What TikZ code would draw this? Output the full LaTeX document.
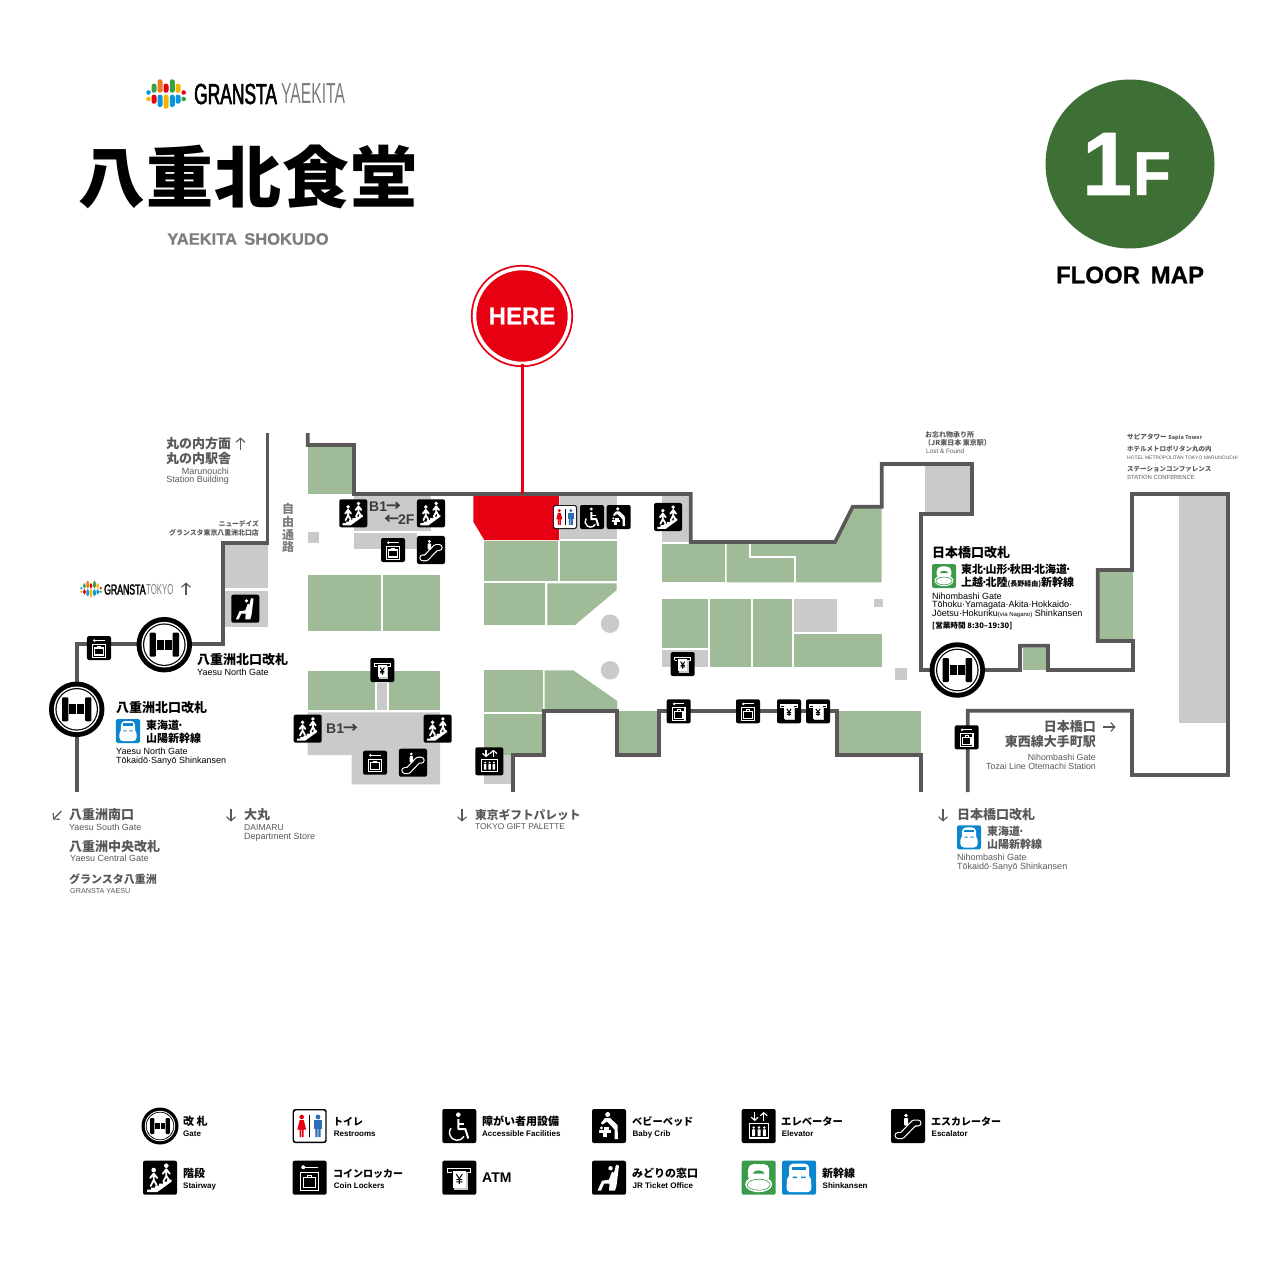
\documentclass[tikz,border=0pt]{standalone}
\usepackage{fontspec}
\usetikzlibrary{arrows.meta, shapes.geometric}
\setmainfont{Liberation Sans}
\newfontfamily\cjk{Noto Sans CJK JP}
\newfontfamily\cjktitle{Noto Sans CJK JP Black}
\newfontfamily\logobold[FakeStretch=.6,FakeBold=2]{Liberation Sans}
\newfontfamily\logothin[FakeStretch=.54]{Liberation Sans}
\newfontfamily\heavy[FakeBold=.8]{Liberation Sans Bold}
\newcommand{\fs}[1]{\fontsize{#1}{#1}\selectfont}
\newcommand{\jpdot}{\kern-.2em·\kern-.2em}
\definecolor{wallgray}{HTML}{595757}
\definecolor{shopgreen}{HTML}{9FBB97}
\definecolor{floorgray}{HTML}{C9CACA}
\definecolor{herered}{HTML}{E60012}
\definecolor{floorgreen}{HTML}{3E7035}
\definecolor{subgray}{HTML}{7D7D7D}
\definecolor{trainblue}{HTML}{0A86CF}
\definecolor{traingreen}{HTML}{3C9A4B}
\definecolor{wcblue}{HTML}{2F6DB5}
\definecolor{logoorange}{HTML}{EE7B1A}
\definecolor{logoyellow}{HTML}{F8B500}
\definecolor{logoblue}{HTML}{0A96DE}
\definecolor{logogreen}{HTML}{3AA23F}
% Map pieces
\tikzstyle{wall} = [draw=wallgray, line width=3.6pt, miter limit=4]
\tikzstyle{shop} = [fill=shopgreen]
\tikzstyle{service} = [fill=floorgray]
\tikzstyle{dirarrow} = [wallgray, line width=1.1pt, -{Straight Barb[length=4pt,width=9pt]}]
% Text, the number is the size
\tikzstyle{jp} = [anchor=west, inner sep=0pt, text=wallgray, font=\cjk\bfseries\fs{#1}, text height={.76*#1pt}, text depth=0pt]
\tikzstyle{jpblack} = [jp=#1, text=black]
\tikzstyle{en} = [anchor=west, inner sep=0pt, text=wallgray, font=\fs{#1}, text height={.7*#1pt}, text depth=0pt]
\tikzstyle{enblack} = [en=#1, text=black]
\tikzstyle{legendjp} = [jp=#1, text=black]
\tikzstyle{legenden} = [en=8, text=black, font=\bfseries\fs{8}]
\tikzstyle{floorlabel} = [en=14, font=\bfseries\fs{14}, text=wallgray!70!black]
% Icon sizes
\tikzstyle{midicon} = [scale=.824]
\tikzstyle{smallicon} = [scale=.706]
\tikzstyle{whiteline} = [white, line width=1.2pt]
\newcommand{\walker}[2]{%
  \fill[white] (#1,#2) circle[radius=2.3];
  \draw[white, line width=1.8pt, line cap=round, line join=round]
    (#1-3.5,#2+8) -- (#1,#2+3.5) -- (#1+3.5,#2+8)
    (#1,#2+3.5) -- (#1,#2+10) -- (#1-3,#2+16)
    (#1,#2+10) -- (#1+3,#2+15);
}
\tikzset{
  pics/logomark/.style={code={
    \fill[logoblue] (-17.5,-1.5) circle[radius=2.3];
    \fill[logoyellow] (-17.5,5) circle[radius=2.3];
    \fill[logogreen, rounded corners=2.2] (-14.5,-10.3) rectangle (-9.5,-1.3);
    \fill[herered, rounded corners=2.2] (-14.5,.7) rectangle (-9.5,9.7);
    \fill[logoorange, rounded corners=2.2] (-8.5,-14.7) rectangle (-3.5,-1.3);
    \fill[logoblue, rounded corners=2.2] (-8.5,.7) rectangle (-3.5,13);
    \fill[herered, rounded corners=2.2] (-2.5,-10.3) rectangle (2.5,-1.3);
    \fill[logoyellow, rounded corners=2.2] (-2.5,.7) rectangle (2.5,14.7);
    \fill[logogreen, rounded corners=2.2] (3.8,-14.7) rectangle (8.8,-1.3);
    \fill[logoblue, rounded corners=2.2] (3.8,.7) rectangle (8.8,13);
    \fill[logoyellow, rounded corners=2.2] (9.6,-10.3) rectangle (14.6,-1.3);
    \fill[logoblue, rounded corners=2.2] (9.6,.7) rectangle (14.6,9.7);
    \fill[herered] (17.7,-1.5) circle[radius=2.3];
    \fill[logogreen] (17.7,5) circle[radius=2.3];
  }},
  pics/gateicon/.style={code={
    \fill[black] (0,0) circle[radius=18.5];
    \fill[white] (0,0) circle[radius=15.2];
    \fill[black] (0,0) circle[radius=14.2];
    \fill[white] (0,0) circle[radius=13.4];
    \fill[black, rounded corners=1] (-9.8,-8) rectangle (-5.6,8);
    \fill[black, rounded corners=1] (5.6,-8) rectangle (9.8,8);
    \fill[black] (-5,-3.4) rectangle (-.5,3.4);
    \fill[black] (.5,-3.4) rectangle (5,3.4);
  }},
  pics/stairicon/.style={code={
    \fill[black, rounded corners=2] (-17,-17) rectangle (17,17);
    \walker{-6.3}{-7.7}
    \walker{6.3}{-12}
    \fill[white] (-13,14.5) -- (-13,12) -- (-9,12) -- (-9,10) -- (-5,10) -- (-5,8) -- (-1,8) -- (-1,6) -- (3,6)
      -- (3,4) -- (7,4) -- (7,2) -- (11.5,2) -- (11.5,4) -- (-3,14.5) -- cycle;
  }},
  pics/lockericon/.style={code={
    \fill[black, rounded corners=2] (-17,-17) rectangle (17,17);
    \fill[white] (-6.5,-10.5) circle[radius=2];
    \fill[white] (-6,-11.2) rectangle (8,-9.8);
    \draw[whiteline] (-9,-5) rectangle (9,13);
    \draw[whiteline] (-6,0) rectangle (6,10);
    \draw[whiteline] (-2,0) -- (-2,-2) -- (2,-2) -- (2,0);
  }},
  pics/atmicon/.style={code={
    \fill[black, rounded corners=2] (-17,-17) rectangle (17,17);
    \draw[whiteline] (-11.5,-5) -- (-11.5,-9) -- (11.5,-9) -- (11.5,-5) -- (7.5,-5);
    \draw[whiteline] (-11.5,-5) -- (-7.5,-5);
    \fill[floorgray] (-5,-6) rectangle (8.5,12.5);
    \fill[white] (-6.7,-7) rectangle (6.7,10.5);
    \draw[black, line width=1pt] (-3,-3.5) -- (0,1) -- (3,-3.5) (0,1) -- (0,6.5) (-3,2) -- (3,2) (-3,4.2) -- (3,4.2);
  }},
  pics/wheelicon/.style={code={
    \fill[black, rounded corners=2] (-17,-17) rectangle (17,17);
    \fill[white] (-1,-11.3) circle[radius=2.3];
    \draw[white, line width=2pt, line join=round] (-1,-7) -- (-1,3) -- (6,3) -- (9,12.5);
    \draw[white, line width=1.3pt] (-1,-2) -- (5,-2);
    \draw[white, line width=1.4pt] (-2,6.5) +(215:7.8) arc[start angle=215, end angle=30, radius=7.8];
  }},
  pics/babyicon/.style={code={
    \fill[black, rounded corners=2] (-17,-17) rectangle (17,17);
    \fill[white] (-1.3,-11.5) circle[radius=2.5];
    \fill[white] (-4,-8) -- (1,-8) -- (8.5,-1) -- (9,13) -- (5.5,13) -- (5.5,3.5) -- (1,-1.5) -- (-2,-4.5) -- (-6.5,-1.5) -- (-8,-3) -- cycle;
    \fill[white] (-10,4) rectangle (2,7);
    \fill[white] (-6,7) rectangle (-2,11);
    \fill[white] (-7.5,2) circle[radius=1.6];
    \fill[white] (-5.5,1.2) rectangle (0,4);
  }},
  pics/ticketicon/.style={code={
    \fill[black, rounded corners=2] (-17,-17) rectangle (17,17);
    \fill[white] (1.5,-9.5) circle[radius=2.2];
    \fill[white] (7,-13) -- (10,-12) -- (7.5,8) -- (6,13) -- (0,13) -- (.5,6) -- (-5,6) -- (-8,13) -- (-11.5,13)
      -- (-7,3) -- (0,2) -- (3,-6) -- (5,-5) -- cycle;
  }},
  pics/elevatoricon/.style={code={
    \fill[black, rounded corners=2] (-17,-17) rectangle (17,17);
    \draw[white, line width=1.2pt, -{Straight Barb[length=3pt,width=7pt]}] (-4,-14) -- (-4,-5);
    \draw[white, line width=1.2pt, -{Straight Barb[length=3pt,width=7pt]}] (5,-5) -- (5,-14);
    \draw[whiteline] (-9,-2.5) rectangle (9.5,12);
    \fill[white] (-5,1.5) circle[radius=1.3] (.3,1.5) circle[radius=1.3] (5.6,1.5) circle[radius=1.3];
    \fill[white] (-6.5,3.3) rectangle (-3.5,10) (-1.2,3.3) rectangle (1.8,10) (4.1,3.3) rectangle (7.1,10);
  }},
  pics/escalatoricon/.style={code={
    \fill[black, rounded corners=2] (-17,-17) rectangle (17,17);
    \draw[white, line width=7pt, line join=round, line cap=round] (-10,9.5) -- (-6,9.5) -- (6,-3) -- (10,-3);
    \draw[black, line width=4.6pt, line join=round, line cap=round] (-10,9.5) -- (-6,9.5) -- (6,-3) -- (10,-3);
    \fill[white] (-2,-10.5) circle[radius=1.9];
    \fill[white, rounded corners=.8] (-4,-8) rectangle (0,-.5);
  }},
  pics/wcicon/.style={code={
    \fill[black, rounded corners=2.5] (-17,-17) rectangle (17,17);
    \fill[white, rounded corners=1.5] (-15.6,-15.6) rectangle (15.6,15.6);
    \fill[black] (-.6,-11) rectangle (.6,11);
    \fill[herered] (-8,-9) circle[radius=2.3];
    \fill[herered] (-10,-6) -- (-6,-6) -- (-3.6,3.5) -- (-6,3.5) -- (-6,11) -- (-7.6,11) -- (-7.6,3.5) -- (-8.4,3.5) -- (-8.4,11) -- (-10,11) -- (-10,3.5) -- (-12.4,3.5) -- cycle;
    \fill[wcblue] (8.3,-9) circle[radius=2.4];
    \fill[wcblue] (4,-6) rectangle (12.6,3);
    \fill[wcblue] (5.6,3) rectangle (8,11) (8.6,3) rectangle (11,11);
  }},
  pics/greentrain/.style={code={
    \fill[traingreen, rounded corners=2] (-17,-17) rectangle (17,17);
    \fill[white, rounded corners=5] (-10.5,-13.5) rectangle (10.5,4);
    \fill[white] (0,6.5) ellipse[x radius=13.5, y radius=8];
    \draw[traingreen, line width=.6pt] (0,7) ellipse[x radius=11.5, y radius=5.5];
    \fill[traingreen] (-6,-4) .. controls (-5,-8.5) and (5,-8.5) .. (6,-4) -- cycle;
  }},
  pics/bluetrain/.style={code={
    \fill[trainblue, rounded corners=2] (-17,-17) rectangle (17,17);
    \fill[white, rounded corners=4] (-10,-14) rectangle (10,6);
    \fill[white, rounded corners=4] (-12,-2) -- (12,-2) -- (12.5,14.5) -- (-12.5,14.5) -- cycle;
    \fill[trainblue] (-7,-11) rectangle (7,-7.5);
    \fill[trainblue] (-6.5,-1) rectangle (-2,.5) (2,-1) rectangle (6.5,.5);
  }}
}
\begin{document}
\begin{tikzpicture}[x=1pt, y=-1pt]
    \useasboundingbox (0,0) rectangle (1276,1276);

    % Header
    \pic (yaekitaMark) at (166,94) {logomark};
    \node[anchor=base west, inner sep=0pt, font=\logobold\fs{29}] (yaekitaBold) at (194,104) {GRANSTA};
    \node[anchor=base west, inner sep=0pt, font=\logothin\fs{29}, text=subgray] (yaekitaThin) at (281,104) {YAEKITA};
    \node[inner sep=0pt, font=\cjktitle\fs{67}] (title) at (248,177) {八\kern1pt 重\kern1pt 北\kern1pt 食\kern1pt 堂};
    \node[inner sep=0pt, font=\heavy\fs{16.5}, text=subgray] (titleEn) at (248,239) {YAEKITA\, SHOKUDO};
    \node[circle, fill=floorgreen, minimum size=169pt, inner sep=0pt] (floorBadge) at (1130,164) {};
    \node[anchor=base, inner sep=0pt, font=\heavy\fs{90}, text=white] (floorOne) at (1107,195) {1};
    \node[anchor=base, inner sep=0pt, font=\heavy\fs{62}, text=white] (floorF) at (1152,195) {F};
    \node[inner sep=0pt, font=\heavy\fs{24}] (floorText) at (1130,275) {FLOOR\, MAP};

    % Shops
    \fill[shop] (307.7,446.7) rectangle (354,494);
    \fill[shop] (307.7,575) rectangle (380.7,630.7);
    \fill[shop] (382.7,575) rectangle (440,630.7);
    \fill[shop] (307.7,670.7) rectangle (375,710);
    \fill[shop] (389,670.7) rectangle (440,710);
    \fill[shop] (484.3,541) rectangle (558.3,581.3);
    \fill[shop] (560.3,541) rectangle (616.7,581.3);
    \fill[shop] (484.3,583.3) rectangle (545.3,625);
    \fill[shop] (547.3,583.3) -- (616.7,583.3) -- (616.7,590) -- (575,625) -- (547.3,625) -- cycle;
    \fill[shop] (484.3,670.3) rectangle (542.7,712.3);
    \fill[shop] (544.7,670.3) -- (573.3,670.3) -- (617.3,701) -- (617.3,710) -- (544.7,710) -- cycle;
    \fill[shop] (484.3,714.3) rectangle (542.3,755);
    \fill[shop] (619.3,711) rectangle (657.3,755);
    \fill[shop] (839,711) rectangle (921,755);
    \fill[shop] (661.7,544) rectangle (725,582.3);
    \fill[shop] (726.7,544) -- (835,544) -- (853,506.7) -- (881.7,506.7) -- (881.7,582.3) -- (726.7,582.3) -- cycle;
    \draw[white, line width=1.6pt] (750,544) -- (750,556.7) -- (795,556.7) -- (795,582.3);
    \fill[shop] (661.7,599) rectangle (707.7,648.3);
    \fill[shop] (710,599) rectangle (750.7,667);
    \fill[shop] (752.7,599) rectangle (792.3,667);
    \fill[shop] (794.3,634) rectangle (881.7,667);
    \fill[shop] (1099.3,571.7) rectangle (1133.3,639.3);
    \fill[shop] (1022.7,647.7) rectangle (1046.7,670);

    % Service areas
    \fill[service] (354,494) rectangle (431,530.7);
    \fill[service] (354,532.7) rectangle (417,549);
    \fill[service] (307.7,532.3) rectangle (319.3,543.3);
    \fill[service] (225,545) rectangle (268,588.3);
    \fill[service] (225,590.7) rectangle (268,626.7);
    \fill[service] (376.7,683) rectangle (387.3,710);
    \fill[service] (307.7,712.3) -- (440,712.3) -- (440,784.3) -- (351.7,784.3) -- (351.7,755) -- (307.7,755) -- cycle;
    \fill[service] (560,496) rectangle (616.7,539.3);
    \fill[service] (661.7,496) rectangle (689.3,541.7);
    \fill[service] (484.3,755) rectangle (511.7,784.3);
    \fill[service] (661.7,650) rectangle (707.7,667);
    \fill[service] (794.3,599) rectangle (837.3,631.7);
    \fill[service] (874.3,599) rectangle (882.7,607);
    \fill[service] (895,668.3) rectangle (906.7,680);
    \fill[service] (925,466) rectangle (970,511.7);
    \fill[service] (1179.3,496) rectangle (1226.7,723.3);
    \fill[service] (610,623.7) circle[radius=9.3];
    \fill[service] (610,670.3) circle[radius=9.3];
    \fill[herered] (473.3,496) -- (559,496) -- (559,540) -- (484.3,540) -- (473.3,521.7) -- cycle;

    % Walls
    \draw[wall] (267.5,433) -- (267.5,543) -- (223,543) -- (223,644) -- (77,644) -- (77,792);
    \draw[wall] (307.7,433) -- (307.7,445) -- (354,445) -- (354,494) -- (690.7,494) -- (690.7,542) -- (835,542)
      -- (852.7,506.7) -- (881.7,506.7) -- (881.7,464) -- (972,464) -- (972,514) -- (921,514) -- (921,670) -- (1020,670)
      -- (1020,645.7) -- (1048,645.7) -- (1048,670) -- (1133,670) -- (1133,641) -- (1097.7,641) -- (1097.7,570) -- (1132,570)
      -- (1132,494) -- (1228,494) -- (1228,775) -- (1132,775) -- (1132,710.7) -- (967.7,710.7) -- (967.7,792);
    \draw[wall] (512.7,792) -- (512.7,755) -- (544,755) -- (544,710.7) -- (617,710.7) -- (617,755) -- (659,755)
      -- (659,710.7) -- (836.7,710.7) -- (836.7,755) -- (921,755) -- (921,792);

    % Here marker
    \node[circle, fill=herered, draw=herered, line width=1.8pt, double=white, double distance=3.6pt, minimum size=95pt,
      inner sep=0pt, font=\heavy\fs{24}, text=white] (here) at (522,316) {HERE};
    \coordinate (hereShop) at (522,494);
    \draw[herered, line width=3pt] (here) -- (hereShop);

    % Gates
    \pic[scale=1.5] (gateNorth) at (164.3,644.7) {gateicon};
    \pic[scale=1.5] (gateTokaido) at (76.7,709.3) {gateicon};
    \pic[scale=1.5] (gateNihombashi) at (957.3,670) {gateicon};

    % Icons on the map
    \pic[midicon] (stairA) at (353.3,513.3) {stairicon};
    \pic[midicon] (stairB) at (431,513.3) {stairicon};
    \pic[midicon] (stairC) at (307.7,728.7) {stairicon};
    \pic[midicon] (stairD) at (437.7,728.7) {stairicon};
    \pic[midicon] (stairE) at (668,517) {stairicon};
    \pic[smallicon] (lockerA) at (393,550) {lockericon};
    \pic[smallicon] (lockerB) at (375,762.7) {lockericon};
    \pic[smallicon] (lockerC) at (99,648) {lockericon};
    \pic[smallicon] (lockerD) at (678.7,711.3) {lockericon};
    \pic[smallicon] (lockerE) at (748,711.3) {lockericon};
    \pic[smallicon] (lockerF) at (966.7,737.3) {lockericon};
    \pic[midicon] (escalatorA) at (431,550) {escalatoricon};
    \pic[midicon] (escalatorB) at (413,762.7) {escalatoricon};
    \pic[midicon] (ticketA) at (245.3,608.7) {ticketicon};
    \pic[smallicon] (atmA) at (382.3,670) {atmicon};
    \pic[smallicon] (atmB) at (682.7,664) {atmicon};
    \pic[smallicon] (atmC) at (789,711.3) {atmicon};
    \pic[smallicon] (atmD) at (818,711.3) {atmicon};
    \pic[smallicon] (wcA) at (565,517) {wcicon};
    \pic[smallicon] (wheelA) at (592,517) {wheelicon};
    \pic[smallicon] (babyA) at (618.7,517) {babyicon};
    \pic[midicon] (elevatorA) at (489.3,761.3) {elevatoricon};

    % Floor labels
    \node[floorlabel] (stairUpper) at (369,507) {B1\kern-1pt{\cjk\fs{15}→}};
    \node[floorlabel] (stairLower) at (384,519.5) {{\cjk\fs{15}←}\kern-1pt 2F};
    \node[floorlabel] (stairSouth) at (326,728.7) {B1\kern-1pt{\cjk\fs{15}→}};
    \node[jp=12, text=subgray, align=center, anchor=north, font=\cjk\bfseries\fs{12}, text height=, text width=13pt] (freeWay) at (288,503) {自\\[.8pt]由\\[.8pt]通\\[.8pt]路};

    % Left labels
    \node[jp=13] (marunouchiA) at (166,443.5) {丸の内方面};
    \draw[dirarrow] (240.5,450) -- ++(0,-12.5);
    \node[jp=13] (marunouchiB) at (166,458.5) {丸の内駅舎};
    \node[en=9, anchor=east] (marunouchiC) at (229,471) {Marunouchi};
    \node[en=9, anchor=east] (marunouchiD) at (229,479.5) {Station Building};
    \node[jp=6.7, anchor=east] (newdaysA) at (259,524) {ニューデイズ};
    \node[jp=6.9, anchor=east] (newdaysB) at (259,533) {グランスタ東京八重洲北口店};
    \pic[scale=.55] (tokyoMark) at (91,589) {logomark};
    \node[anchor=base west, inner sep=0pt, font=\logobold\fs{14.5}] (tokyoBold) at (104,594.5) {GRANSTA};
    \node[anchor=base west, inner sep=0pt, font=\logothin\fs{14.5}, text=subgray] (tokyoThin) at (146,594.5) {TOKYO};
    \draw[dirarrow] (186,595) -- ++(0,-12.5);
    \node[jpblack=13] (northGate) at (197,660) {八重洲北口改札};
    \node[enblack=9] (northGateEn) at (197,672.7) {Yaesu North Gate};
    \node[jpblack=13] (tokaidoGate) at (116,708) {八重洲北口改札};
    \pic[smallicon] (trainBlueA) at (128,731) {bluetrain};
    \node[jpblack=11] (tokaidoA) at (146,725) {東海道\jpdot};
    \node[jpblack=11] (tokaidoB) at (146,738) {山陽新幹線};
    \node[enblack=9] (tokaidoC) at (116,751) {Yaesu North Gate};
    \node[enblack=9] (tokaidoD) at (116,760) {Tōkaidō·Sanyō Shinkansen};

    % Bottom labels
    \draw[dirarrow] (61.5,811) -- ++(-8.5,8.5);
    \node[jp=13] (southGate) at (69,815) {八重洲南口};
    \node[en=8.9] (southGateEn) at (69,827) {Yaesu South Gate};
    \node[jp=13] (centralGate) at (69,846.5) {八重洲中央改札};
    \node[en=9] (centralGateEn) at (70,858.5) {Yaesu Central Gate};
    \node[jp=11] (granstaYaesu) at (69,879) {グランスタ八重洲};
    \node[en=7.2] (granstaYaesuEn) at (70,891) {GRANSTA YAESU};
    \draw[dirarrow] (231,809) -- ++(0,12.5);
    \node[jp=13] (daimaru) at (244,815) {大丸};
    \node[en=8.6] (daimaruA) at (244,827) {DAIMARU};
    \node[en=9] (daimaruB) at (244,836) {Department Store};
    \draw[dirarrow] (462,809) -- ++(0,12.5);
    \node[jp=11.7] (giftPalette) at (475,815) {東京ギフトパレット};
    \node[en=8.4] (giftPaletteEn) at (475,827) {TOKYO GIFT PALETTE};
    \draw[dirarrow] (943,809) -- ++(0,12.5);
    \node[jp=13] (nihombashiS) at (957,815) {日本橋口改札};
    \pic[smallicon] (trainBlueB) at (969,837.3) {bluetrain};
    \node[jp=11] (nihombashiSA) at (987,831) {東海道\jpdot};
    \node[jp=11] (nihombashiSB) at (987,844) {山陽新幹線};
    \node[en=9] (nihombashiSC) at (957,857.5) {Nihombashi Gate};
    \node[en=9] (nihombashiSD) at (957,866.5) {Tōkaidō·Sanyō Shinkansen};

    % Right labels
    \node[jp=7] (lostA) at (925,435) {お忘れ物承り所};
    \node[jp=7] (lostB) at (924,443) {（JR東日本 東京駅）};
    \node[en=6.4] (lostC) at (926,451.5) {Lost \& Found};
    \node[jp=6.6] (sapia) at (1127,437) {サピアタワー \fontsize{5.5}{5.5}\selectfont Sapia Tower};
    \node[jp=6.5] (hotelA) at (1127,449.5) {ホテルメトロポリタン丸の内};
    \node[en=4.95] (hotelB) at (1127,457.5) {HOTEL METROPOLITAN TOKYO MARUNOUCHI};
    \node[jp=6.5] (conferenceA) at (1127,469) {ステーションコンファレンス};
    \node[en=5.9] (conferenceB) at (1127,477) {STATION CONFERENCE};
    \node[jpblack=13] (nihombashiN) at (932,553) {日本橋口改札};
    \pic[smallicon] (trainGreenA) at (944,576) {greentrain};
    \node[jpblack=11] (nihombashiNA) at (961,569.5) {東北\jpdot 山形\jpdot 秋田\jpdot 北海道\jpdot};
    \node[jpblack=11] (nihombashiNB) at (961,582.5) {上越\jpdot 北陸\fontsize{7}{7}\selectfont (長野経由)\fontsize{11}{11}\selectfont 新幹線};
    \node[enblack=9] (nihombashiNC) at (932,596) {Nihombashi Gate};
    \node[enblack=9] (nihombashiND) at (932,604.7) {Tōhoku·Yamagata·Akita·Hokkaido·};
    \node[enblack=9.1] (nihombashiNE) at (932,613.5) {Jōetsu·Hokuriku{\fontsize{6}{6}\selectfont (via Nagano)} Shinkansen};
    \node[jpblack=7.6] (nihombashiNF) at (932,626) {[営業時間 8:30–19:30]};
    \node[jp=13, anchor=east] (otemachiA) at (1096,727) {日本橋口};
    \draw[dirarrow] (1103,727) -- ++(12.5,0);
    \node[jp=13, anchor=east] (otemachiB) at (1096,742) {東西線大手町駅};
    \node[en=8.8, anchor=east] (otemachiC) at (1096,757) {Nihombashi Gate};
    \node[en=8.8, anchor=east] (otemachiD) at (1096,766) {Tozai Line Otemachi Station};

    % Legend
    \pic (legendGate) at (160,1126) {gateicon};
    \pic (legendWc) at (309.7,1126) {wcicon};
    \pic (legendWheel) at (459.3,1126) {wheelicon};
    \pic (legendBaby) at (609,1126) {babyicon};
    \pic (legendElevator) at (758.7,1126) {elevatoricon};
    \pic (legendEscalator) at (908,1126) {escalatoricon};
    \pic (legendStair) at (160,1177.7) {stairicon};
    \pic (legendLocker) at (309.7,1177.7) {lockericon};
    \pic (legendAtm) at (459.3,1177.7) {atmicon};
    \pic (legendTicket) at (609,1177.7) {ticketicon};
    \pic (legendGreen) at (758.7,1177.7) {greentrain};
    \pic (legendBlue) at (799,1177.7) {bluetrain};
    \node[legendjp=11] (textGate) at (183,1121.5) {改 札};
    \node[legenden] (textGateEn) at (183,1133.5) {Gate};
    \node[legendjp=10] (textWc) at (333,1121.5) {トイレ};
    \node[legenden] (textWcEn) at (333.7,1133.5) {Restrooms};
    \node[legendjp=11] (textWheel) at (482,1121.5) {障がい者用設備};
    \node[legenden] (textWheelEn) at (482,1133.5) {Accessible Facilities};
    \node[legendjp=10.2] (textBaby) at (632,1121.5) {ベビーベッド};
    \node[legenden] (textBabyEn) at (632.5,1133.5) {Baby Crib};
    \node[legendjp=10.3] (textElevator) at (781,1121.5) {エレベーター};
    \node[legenden] (textElevatorEn) at (781.7,1133.5) {Elevator};
    \node[legendjp=10] (textEscalator) at (931,1121.5) {エスカレーター};
    \node[legenden] (textEscalatorEn) at (931.5,1133.5) {Escalator};
    \node[legendjp=11] (textStair) at (183,1173.5) {階段};
    \node[legenden] (textStairEn) at (183,1185.5) {Stairway};
    \node[legendjp=10] (textLocker) at (333,1173.5) {コインロッカー};
    \node[legenden] (textLockerEn) at (333.7,1185.5) {Coin Lockers};
    \node[inner sep=0pt, anchor=west, font=\bfseries\fs{14}] (textAtm) at (482,1178) {ATM};
    \node[legendjp=11] (textTicket) at (632,1173.5) {みどりの窓口};
    \node[legenden] (textTicketEn) at (632.5,1185.5) {JR Ticket Office};
    \node[legendjp=11] (textTrain) at (822,1173.5) {新幹線};
    \node[legenden] (textTrainEn) at (822.5,1185.5) {Shinkansen};
\end{tikzpicture}
\end{document}
